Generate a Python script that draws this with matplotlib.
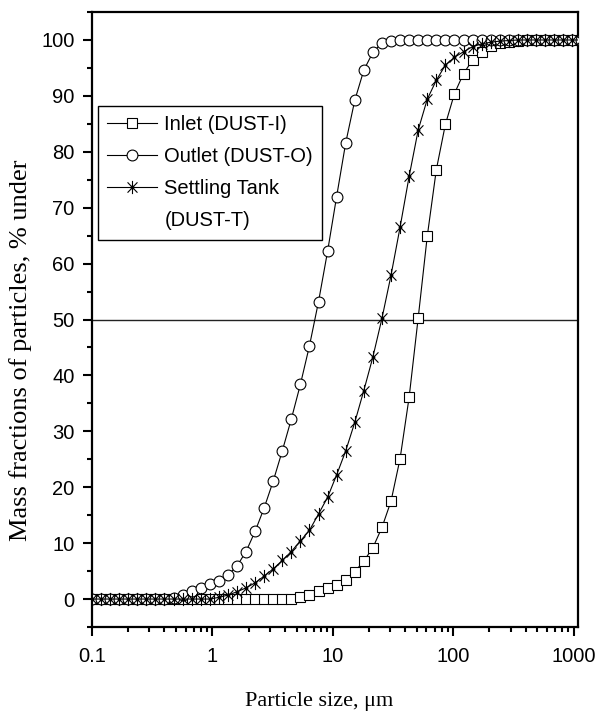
import numpy as np
import matplotlib.pyplot as plt
from matplotlib.path import Path
from matplotlib.lines import Line2D
from matplotlib.ticker import LogLocator, NullFormatter, MultipleLocator

plt.rcParams['font.family'] = ['Liberation Sans', 'DejaVu Sans']

# particle size classes (um), shared by all three samples
size_um = [0.1, 0.1189, 0.1414, 0.1682, 0.2, 0.2378, 0.2828, 0.3364, 0.4, 0.4757,
           0.5657, 0.6727, 0.8, 0.9514, 1.131, 1.345, 1.6, 1.903, 2.263, 2.691,
           3.2, 3.805, 4.525, 5.382, 6.4, 7.611, 9.051, 10.76, 12.8, 15.22,
           18.1, 21.53, 25.6, 30.44, 36.2, 43.05, 51.2, 60.89, 72.41, 86.11,
           102.4, 121.8, 144.8, 172.2, 204.8, 243.5, 289.6, 344.4, 409.6, 487.1,
           579.3, 688.9, 819.2, 974.2, 1158.5]

# cumulative mass fraction, % under
inlet = [0, 0, 0, 0, 0, 0, 0, 0, 0, 0,
         0, 0, 0, 0, 0, 0, 0, 0, 0, 0,
         0, 0, 0, 0.3, 0.8, 1.4, 1.9, 2.5, 3.4, 4.9,
         6.8, 9.2, 12.8, 17.5, 25.1, 36.1, 50.3, 64.9, 76.8, 84.9,
         90.4, 94.0, 96.4, 97.8, 98.9, 99.4, 99.7, 99.9, 100, 100,
         100, 100, 100, 100, 100]
outlet = [0, 0, 0, 0, 0, 0, 0, 0, 0, 0.2,
          0.7, 1.4, 2.0, 2.6, 3.3, 4.3, 5.9, 8.5, 12.1, 16.3,
          21.1, 26.5, 32.2, 38.4, 45.3, 53.2, 62.2, 72.0, 81.6, 89.2,
          94.6, 97.8, 99.5, 99.9, 100, 100, 100, 100, 100, 100,
          100, 100, 100, 100, 100, 100, 100, 100, 100, 100,
          100, 100, 100, 100, 100]
settling = [0, 0, 0, 0, 0, 0, 0, 0, 0, 0,
            0, 0, 0, 0, 0.3, 0.7, 1.3, 2.0, 2.9, 4.1,
            5.4, 6.9, 8.5, 10.4, 12.3, 15.2, 18.2, 22.2, 26.5, 31.6,
            37.3, 43.3, 50.2, 57.9, 66.5, 75.6, 83.9, 89.4, 92.8, 95.5,
            96.9, 97.9, 98.8, 99.3, 99.6, 99.8, 99.9, 100, 100, 100,
            100, 100, 100, 100, 100]

xticks = [0.1, 1, 10, 100, 1000]
xticklabels = ['0.1', '1', '10', '100', '1000']
yticks = list(range(0, 101, 10))

# asterisk marker (vertical bar + two diagonals + small centre dot)
ast_lines = Path([(0, -1), (0, 1), (-0.75, -0.78), (0.75, 0.78), (-0.75, 0.78), (0.75, -0.78)],
                 [Path.MOVETO, Path.LINETO] * 3)
ast_dot = Path.circle((0, 0), 0.2)
asterisk = Path.make_compound_path(ast_lines, ast_dot)

fig = plt.figure(figsize=(5.97, 7.12), dpi=100, facecolor='white')
ax = fig.add_axes([0.1541, 0.1194, 0.8141, 0.8637])

ax.axhline(50, color='#222222', lw=1.0, zorder=1)

ax.plot(size_um, inlet, color='black', lw=0.8, marker='s', ms=6.8,
        mfc='white', mec='black', mew=0.8, label='Inlet (DUST-I)', zorder=3)
ax.plot(size_um, outlet, color='black', lw=0.8, marker='o', ms=7.8,
        mfc='white', mec='black', mew=0.8, label='Outlet (DUST-O)', zorder=3)
ax.plot(size_um, settling, color='black', lw=0.8, marker=asterisk, ms=9.5,
        mfc='black', mec='black', mew=0.8, label='Settling Tank', zorder=4)

ax.set_xscale('log')
ax.set_xlim(0.1, 1088)
ax.set_ylim(-5, 105)
ax.set_xticks(xticks)
ax.set_xticklabels(xticklabels)
ax.xaxis.set_minor_locator(LogLocator(base=10, subs=np.arange(2, 10)))
ax.xaxis.set_minor_formatter(NullFormatter())
ax.set_yticks(yticks)
ax.yaxis.set_minor_locator(MultipleLocator(5))

ax.tick_params(which='major', direction='out', length=6.5, width=1.5,
               labelsize=14.5, pad=6, top=False, right=False)
ax.tick_params(axis='x', which='major', pad=8)
ax.tick_params(which='minor', direction='out', length=3.5, width=1.5,
               top=False, right=False)
for sp in ax.spines.values():
    sp.set_linewidth(1.6)

ax.set_xlabel('Particle size, μm', fontsize=16, family='Liberation Serif')
ax.set_ylabel('Mass fractions of particles, % under', fontsize=19, family='Liberation Serif')
ax.xaxis.set_label_coords(0.467, -0.106)
ax.yaxis.set_label_coords(-0.123, 0.45)

handles, labels = ax.get_legend_handles_labels()
handles.append(Line2D([], [], linestyle='none', marker='none'))
labels.append('(DUST-T)')
leg = ax.legend(handles, labels, loc='upper left', bbox_to_anchor=(0.0123, 0.847),
                borderaxespad=0, fontsize=14.5, handlelength=2.5, handletextpad=0.35,
                labelspacing=0.65, borderpad=0.45, fancybox=False, framealpha=1,
                edgecolor='black')
leg.get_frame().set_linewidth(1.0)

fig.savefig('out.png', dpi=100, facecolor='white')
